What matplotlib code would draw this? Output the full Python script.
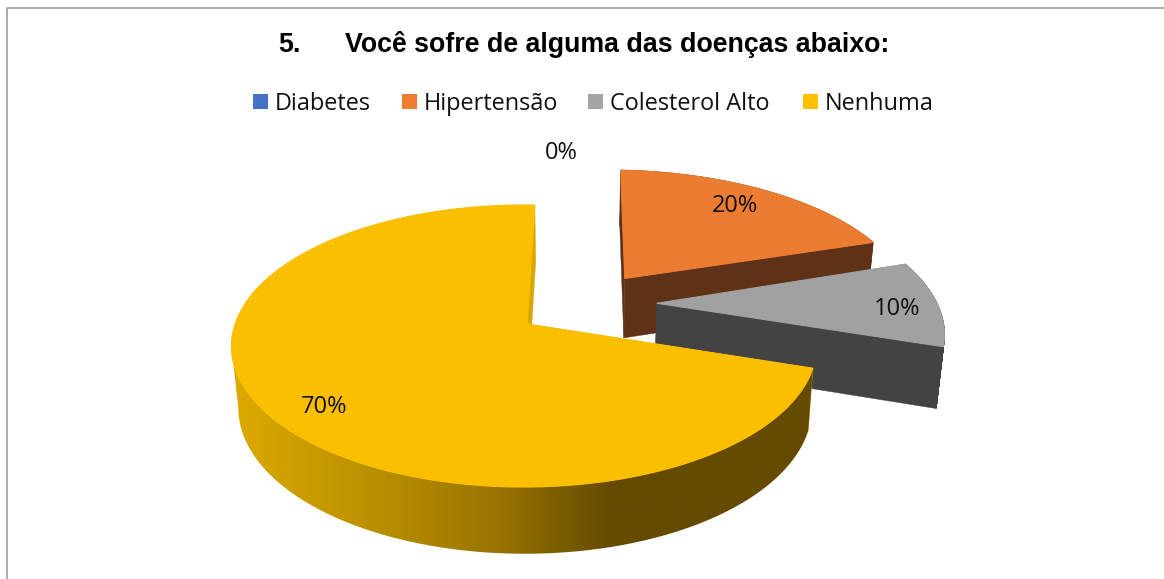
import matplotlib
matplotlib.use('Agg')
import matplotlib.pyplot as plt
from matplotlib.collections import PolyCollection
from matplotlib.colors import LinearSegmentedColormap
from matplotlib.patches import Polygon, Rectangle
import numpy as np

# chart data
categories = ['Diabetes', 'Hipertensão', 'Colesterol Alto', 'Nenhuma']
values = [0, 20, 10, 70]
title_num = '5.'
title_text = 'Você sofre de alguma das doenças abaixo:'

# look of the slices
top_colors = ['#4472c4', '#eb7c31', '#a1a1a1', '#fbbf00']
side_colors = ['#263f6e', '#5f3116', '#434343', '#d9a800']
legend_colors = ['#4472c4', '#ed7d31', '#a5a5a5', '#ffc000']
explode = [(0.0, 0.0), (0.358, 0.35), (0.462, 0.155), (0.0, 0.0)]
radius_x = [1.0, 1.03, 1.012, 1.0]
radius_y = [1.0, 1.01, 1.03, 1.0]
rot_start = [0.0, 2.0, 0.0, 0.0]
rot_end = [0.0, 0.0, 0.0, 1.8]
label_pos = [(561, 153), (735, 206), (897, 309), (324, 407)]
legend_x = [253, 402, 588, 803]
gap_px = 22

# fake 3D camera, in pixels of the picture
cx, cy = 527, 324
rx, ry = 289, 137.6
persp_y, persp_x = 0.156, 0.01
depth = 61
depth_sx, depth_sy = 0.98, 1.035


def project(X, Y):
    w = 1 + persp_y * Y + persp_x * X
    return cx + rx * X / w, cy - ry * Y / w


def to_bottom(sx, sy):
    return cx + 1 + depth_sx * (sx - cx), cy + depth + depth_sy * (sy - cy)


def slice_points(i, a0, a1):
    # angles run clockwise from the top
    t = np.linspace(a0 + np.radians(rot_start[i]), a1 + np.radians(rot_end[i]), 200)
    X = radius_x[i] * np.sin(t) + explode[i][0]
    Y = radius_y[i] * np.cos(t) + explode[i][1]
    return project(X, Y), project(explode[i][0], explode[i][1])


fig = plt.figure(figsize=(11.64, 5.79), dpi=100)
ax = fig.add_axes([0, 0, 1, 1])
ax.set_xlim(0, 1164)
ax.set_ylim(579, 0)
ax.axis('off')

# frame, only top and left are in the picture
ax.plot([7, 7, 1164], [579, 7.5, 7.5], color='#a6a6a6', lw=1.3)

ax.text(278, 45, title_num, fontsize=19.3, fontweight='bold', family='Liberation Sans', va='center')
ax.text(345, 45, title_text, fontsize=19.3, fontweight='bold', family='Liberation Sans', va='center')

for name, col, x in zip(categories, legend_colors, legend_x):
    ax.add_patch(Rectangle((x, 94), 15, 15, color=col, lw=0))
    ax.text(x + gap_px, 103.5, name, fontsize=16.9, family='Open Sans', va='center', color='#111111')

# wall shading of the big slice, left to right
shade = LinearSegmentedColormap.from_list(
    'shade', [(0.0, '#dcaa00'), (0.29, '#b48a00'), (0.46, '#977300'), (0.65, '#654b00'), (1.0, '#654b00')])

total = sum(values)
edges = np.cumsum([0] + values) / total * 2 * np.pi

for i in [1, 2, 3]:
    a0, a1 = edges[i], edges[i + 1]
    (rim_x, rim_y), (ax_x, ax_y) = slice_points(i, a0, a1)
    bot_x, bot_y = to_bottom(rim_x, rim_y)
    ab_x, ab_y = to_bottom(ax_x, ax_y)
    # cut faces
    for k in (0, -1):
        ax.fill([rim_x[k], ax_x, ab_x, bot_x[k]], [rim_y[k], ax_y, ab_y, bot_y[k]],
                color=side_colors[i], lw=0.3, zorder=2 + i)
    # outer wall, only the front part shows
    if i == 3:
        n = np.argmin(rim_x) + 1
        wall = Polygon(np.c_[np.r_[rim_x[:n], bot_x[:n][::-1]], np.r_[rim_y[:n], bot_y[:n][::-1]]],
                       transform=ax.transData, facecolor='none', lw=0)
        ax.add_patch(wall)
        grad = np.linspace(0, 1, 400).reshape(1, -1)
        im = ax.imshow(grad, cmap=shade, extent=(232, 815, 579, 0), aspect='auto', zorder=2.2 + i)
        im.set_clip_path(wall)
        ax.set_xlim(0, 1164)
        ax.set_ylim(579, 0)
    else:
        quads = [[(rim_x[j], rim_y[j]), (rim_x[j + 1], rim_y[j + 1]),
                  (bot_x[j + 1], bot_y[j + 1]), (bot_x[j], bot_y[j])] for j in range(len(rim_x) - 1)]
        ax.add_collection(PolyCollection(quads, facecolors=side_colors[i], edgecolors=side_colors[i],
                                         lw=0.5, zorder=2.2 + i))
    # top face
    ax.fill(np.r_[ax_x, rim_x], np.r_[ax_y, rim_y], color=top_colors[i], lw=0.8, zorder=2.5 + i)

for v, (x, y) in zip(values, label_pos):
    ax.text(x, y, '%d%%' % round(v / total * 100), fontsize=17, family='Open Sans',
            ha='center', va='center', color='#111111', zorder=10)

fig.savefig('out.png', dpi=100)
